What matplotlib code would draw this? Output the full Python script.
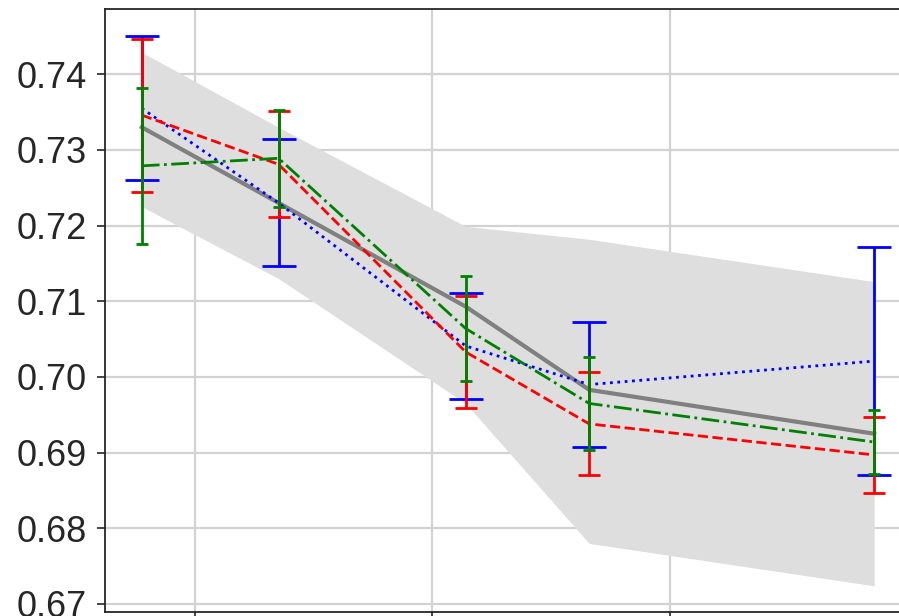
import matplotlib
matplotlib.use("Agg")
import matplotlib.pyplot as plt

# ---- data ----
x_vals = [0.776, 1.352, 2.140, 2.660, 3.860]

mean_gray = [0.7330, 0.7230, 0.7093, 0.6983, 0.6925]
band_hi = [0.7429, 0.7330, 0.7199, 0.7182, 0.7126]
band_lo = [0.7225, 0.7130, 0.6965, 0.6780, 0.6724]

blue_mean = [0.7355, 0.7230, 0.7041, 0.6990, 0.7021]
blue_err = [0.0095, 0.0084, 0.0070, 0.0083, 0.0151]

red_mean = [0.7346, 0.7281, 0.7033, 0.6938, 0.6897]
red_err = [0.0101, 0.0070, 0.0074, 0.0068, 0.0050]

green_mean = [0.7279, 0.7289, 0.7064, 0.6965, 0.6914]
green_err = [0.0103, 0.0064, 0.0069, 0.0061, 0.0042]

y_ticks = [0.67, 0.68, 0.69, 0.70, 0.71, 0.72, 0.73, 0.74]
x_ticks = [1, 2, 3, 4]
title_text = "(by year)"

plt.rcParams["font.family"] = ["Liberation Sans", "DejaVu Sans"]

W, H = 899, 616
fig = plt.figure(figsize=(W / 100, H / 100), dpi=100)
left_px, right_px, top_px, bot_px = 105, 930, 9.3, 612
ax = fig.add_axes([left_px / W, 1 - bot_px / H,
                   (right_px - left_px) / W, (bot_px - top_px) / H])

ax.set_xlim(0.621, 4.095)
ax.set_ylim(0.66894, 0.74859)

ax.grid(True, color="#d2d2d2", linewidth=1.6, zorder=0)
ax.set_axisbelow(True)

ax.fill_between(x_vals, band_lo, band_hi, color="#dedede", linewidth=0, zorder=1)
ax.plot(x_vals, mean_gray, color="#808080", linewidth=3.0, zorder=2)

ax.errorbar(x_vals, blue_mean, yerr=blue_err, color="blue", linestyle=":",
            linewidth=2.0, elinewidth=2.0, capsize=12, capthick=2.0, zorder=3)
ax.errorbar(x_vals, red_mean, yerr=red_err, color="red", linestyle="--",
            linewidth=2.0, elinewidth=2.0, capsize=8, capthick=2.0, zorder=4)
ax.errorbar(x_vals, green_mean, yerr=green_err, color="green", linestyle="-.",
            linewidth=2.0, elinewidth=2.0, capsize=4, capthick=2.0, zorder=5)

ax.set_yticks(y_ticks)
ax.set_yticklabels([f"{v:.2f}" for v in y_ticks])
ax.set_xticks(x_ticks)
ax.set_xticklabels([""] * len(x_ticks))
ax.tick_params(axis="y", labelsize=26, colors="#262626", length=6, width=1.2,
               pad=7, direction="out", left=True)
ax.tick_params(axis="x", labelsize=26, colors="#262626", length=6, width=1.2)

for s in ax.spines.values():
    s.set_color("#262626")
    s.set_linewidth(1.3)

# title sits mostly above the visible area, as in the reference
fig.text(671 / W, 1 + 8.5 / H, title_text, fontsize=26, color="#262626",
         ha="right", va="baseline")

fig.savefig("out.png", dpi=100)
